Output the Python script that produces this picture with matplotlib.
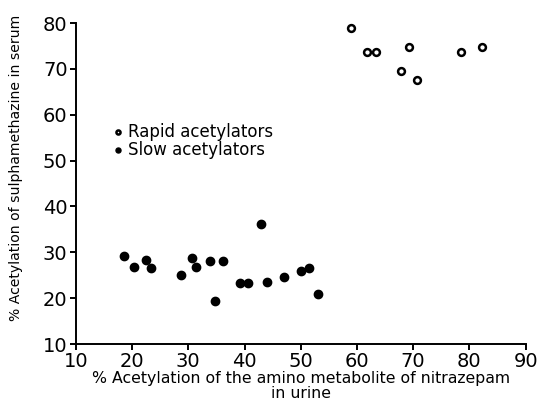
import matplotlib
matplotlib.use("Agg")
import matplotlib.pyplot as plt

# slow acetylators (filled dots)
slow_x = [18.6, 20.4, 22.4, 23.3, 28.7, 30.6, 31.4, 33.9, 34.7, 36.1,
          39.2, 40.6, 43.0, 44.0, 47.1, 50.0, 51.5, 53.1]
slow_y = [29.3, 26.8, 28.4, 26.6, 25.0, 28.7, 26.9, 28.0, 19.4, 28.0,
          23.2, 23.2, 36.2, 23.5, 24.6, 25.9, 26.6, 20.9]

# rapid acetylators (open circles)
rapid_x = [58.9, 61.8, 63.3, 69.3, 67.8, 70.7, 78.5, 82.2]
rapid_y = [78.9, 73.6, 73.6, 74.7, 69.5, 67.6, 73.6, 74.7]

xticks = [10, 20, 30, 40, 50, 60, 70, 80, 90]
yticks = [10, 20, 30, 40, 50, 60, 70, 80]

fig = plt.figure(figsize=(5.38, 4.11), dpi=100)
ax = fig.add_axes([0.141, 0.163, 0.836, 0.781])

ax.scatter(rapid_x, rapid_y, s=24, facecolors="white", edgecolors="black",
           linewidths=1.8, label="Rapid acetylators", zorder=3)
ax.scatter(slow_x, slow_y, s=36, color="black", label="Slow acetylators", zorder=3)

ax.set_xlim(10, 90)
ax.set_ylim(10, 80)
ax.set_xticks(xticks)
ax.set_yticks(yticks)
ax.spines["top"].set_visible(False)
ax.spines["right"].set_visible(False)
ax.spines["left"].set_linewidth(1.4)
ax.spines["bottom"].set_linewidth(1.4)
ax.tick_params(direction="out", length=4, width=1.4, labelsize=14, pad=2)

ax.set_xlabel("% Acetylation of the amino metabolite of nitrazepam\nin urine",
              fontsize=11.3, linespacing=0.95, labelpad=0)
ax.set_ylabel("% Acetylation of sulphamethazine in serum", fontsize=10.1)
ax.yaxis.set_label_coords(-0.117, 0.55)

leg = ax.legend(loc="upper left", bbox_to_anchor=(0.06, 0.715), frameon=False,
                fontsize=12, handletextpad=0.2, borderpad=0, labelspacing=0.0,
                markerscale=0.6, handlelength=0.8)

fig.savefig("out.png", dpi=100)
